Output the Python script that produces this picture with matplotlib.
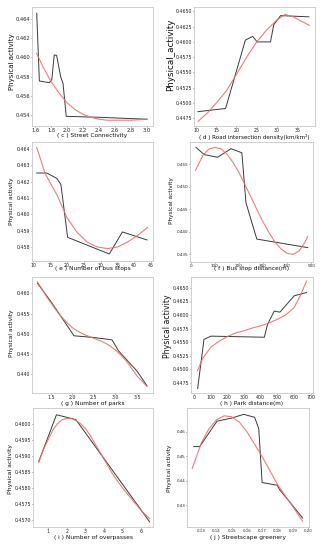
import matplotlib
matplotlib.use("Agg")
import matplotlib.pyplot as plt

# (c) Street Connectivity
c_bx = [1.621, 1.654, 1.78, 1.81, 1.84, 1.87, 1.92, 1.95, 1.99, 2.4, 3.0]
c_by = [0.46455, 0.45755, 0.45738, 0.45772, 0.46024, 0.4602, 0.4580, 0.4573, 0.4539, 0.4538, 0.4536]
c_rx = [1.62, 1.7, 1.8, 1.9, 2.0, 2.1, 2.2, 2.3, 2.4, 2.5, 2.6, 2.7, 2.8, 2.9, 3.0]
c_ry = [0.4604, 0.4590, 0.4575, 0.4563, 0.4553, 0.4546, 0.4541, 0.4538, 0.4536, 0.4535,
        0.4535, 0.4535, 0.4535, 0.45355, 0.4536]

# (d) Road intersection density
d_bx = [10.5, 17.3, 22.2, 24.0, 25.1, 28.4, 29.2, 30.9, 37.9]
d_by = [0.44859, 0.4491, 0.4603, 0.4609, 0.4600, 0.4600, 0.4628, 0.4643, 0.4641]
d_rx = [10.5, 13, 15, 17.5, 20, 22.5, 25, 27.5, 30, 32, 34, 36, 38]
d_ry = [0.4470, 0.4485, 0.4500, 0.4520, 0.4547, 0.4575, 0.4600, 0.4620, 0.4636, 0.4645,
        0.4641, 0.4634, 0.4627]

# (e) Number of bus stops
e_bx = [11, 14, 17, 18.2, 20.2, 32.6, 36.5, 43.8]
e_by = [0.46253, 0.46253, 0.4622, 0.46182, 0.45859, 0.45757, 0.45892, 0.45843]
e_rx = [11, 13.5, 17, 20, 23, 26, 29, 32, 35, 38, 41, 44]
e_ry = [0.4641, 0.4625, 0.4612, 0.4598, 0.4589, 0.4583, 0.4580, 0.4579, 0.4580, 0.4583,
        0.4587, 0.4592]

# (f) Bus stop distance
f_bx = [22, 56, 111, 167, 212, 229, 274, 485]
f_by = [0.4588, 0.4572, 0.4566, 0.4585, 0.4576, 0.4465, 0.4384, 0.4365]
f_rx = [20, 50, 75, 100, 125, 150, 175, 200, 225, 250, 275, 300, 325, 350, 375, 400,
        425, 450, 475, 485]
f_ry = [0.4537, 0.4570, 0.4584, 0.4588, 0.4585, 0.4573, 0.4555, 0.4532, 0.4505, 0.4477,
        0.4449, 0.4422, 0.4398, 0.4377, 0.4362, 0.4352, 0.4350, 0.4358, 0.4378, 0.4390]

# (g) Number of parks
g_bx = [1.19, 1.5, 1.85, 2.04, 2.49, 2.92, 3.07, 3.5, 3.73]
g_by = [0.4625, 0.4580, 0.4525, 0.4495, 0.4491, 0.4485, 0.4458, 0.4408, 0.4372]
g_rx = [1.19, 1.3, 1.4, 1.5, 1.6, 1.7, 1.8, 1.9, 2.0, 2.1, 2.2, 2.3, 2.4, 2.5, 2.6, 2.7,
        2.8, 2.9, 3.0, 3.1, 3.2, 3.3, 3.4, 3.5, 3.6, 3.73]
g_ry = [0.4628, 0.4610, 0.4592, 0.4577, 0.4562, 0.4548, 0.4536, 0.4525, 0.4515, 0.4508,
        0.4502, 0.4497, 0.4493, 0.4489, 0.4485, 0.4480, 0.4475, 0.4468, 0.4460, 0.4450,
        0.4439, 0.4426, 0.4411, 0.4396, 0.4385, 0.4370]

# (h) Park distance
h_bx = [20, 58, 100, 421, 441, 481, 515, 601, 675]
h_by = [0.4465, 0.4555, 0.4561, 0.4559, 0.4583, 0.4607, 0.4605, 0.4635, 0.4641]
h_rx = [20, 50, 100, 150, 204, 250, 300, 350, 400, 440, 500, 550, 600, 640, 675]
h_ry = [0.4498, 0.4520, 0.4541, 0.4552, 0.4561, 0.4567, 0.4571, 0.4576, 0.4580, 0.4584,
        0.4592, 0.4600, 0.4613, 0.4637, 0.4662]

# (i) Number of overpasses
i_bx = [0.5, 1.45, 2.49, 6.45]
i_by = [0.45883, 0.46028, 0.46013, 0.45695]
i_rx = [0.5, 0.75, 1.0, 1.25, 1.5, 1.75, 2.0, 2.25, 2.5, 2.75, 3.0, 3.25, 3.5, 3.75, 4.0,
        4.5, 5.0, 5.5, 6.0, 6.45]
i_ry = [0.4588, 0.4592, 0.4595, 0.4598, 0.4600, 0.46012, 0.46017, 0.46016, 0.4601, 0.4600,
        0.45985, 0.45965, 0.4594, 0.45915, 0.4589, 0.4584, 0.4580, 0.45765, 0.4573, 0.45705]

# (j) Streetscape greenery
j_bx = [0.125, 0.1289, 0.1403, 0.150, 0.1578, 0.165, 0.1677, 0.1699, 0.1798, 0.1813, 0.1965]
j_by = [0.4540, 0.4540, 0.4644, 0.4657, 0.4672, 0.4660, 0.4614, 0.4393, 0.4382, 0.4365, 0.4248]
j_rx = [0.124, 0.13, 0.135, 0.14, 0.145, 0.15, 0.155, 0.16, 0.165, 0.17, 0.175, 0.18,
        0.185, 0.19, 0.1965]
j_ry = [0.4450, 0.4555, 0.4613, 0.4650, 0.4666, 0.4662, 0.4640, 0.4600, 0.4550, 0.4498,
        0.4442, 0.4385, 0.4340, 0.4295, 0.4235]

xlabels = ["( c ) Street Connectivity", "( d ) Road intersection density(km/km²)",
           "( e ) Number of bus stops", "( f ) Bus stop distance(m)",
           "( g ) Number of parks", "( h ) Park distance(m)",
           "( i ) Number of overpasses", "( j ) Streetscape greenery"]
ylabels = ["Physical activity", "Physical_activity", "Physical activity", "Physical activity",
           "Physical activity", "Physical activity", "Physical activity", "Physical activity"]

series = [(c_bx, c_by, c_rx, c_ry), (d_bx, d_by, d_rx, d_ry), (e_bx, e_by, e_rx, e_ry),
          (f_bx, f_by, f_rx, f_ry), (g_bx, g_by, g_rx, g_ry), (h_bx, h_by, h_rx, h_ry),
          (i_bx, i_by, i_rx, i_ry), (j_bx, j_by, j_rx, j_ry)]

xticks = [[1.6, 1.8, 2.0, 2.2, 2.4, 2.6, 2.8, 3.0], [10, 15, 20, 25, 30, 35],
          [10, 15, 20, 25, 30, 35, 40, 45], [0, 100, 200, 300, 400, 500],
          [1.5, 2.0, 2.5, 3.0, 3.5], [0, 100, 200, 300, 400, 500, 600, 700],
          [1, 2, 3, 4, 5, 6], [0.13, 0.14, 0.15, 0.16, 0.17, 0.18, 0.19, 0.20]]
yticks = [[0.454, 0.456, 0.458, 0.460, 0.462, 0.464],
          [0.4475, 0.4500, 0.4525, 0.4550, 0.4575, 0.4600, 0.4625, 0.4650],
          [0.458, 0.459, 0.460, 0.461, 0.462, 0.463, 0.464],
          [0.435, 0.440, 0.445, 0.450, 0.455],
          [0.440, 0.445, 0.450, 0.455, 0.460],
          [0.4475, 0.4500, 0.4525, 0.4550, 0.4575, 0.4600, 0.4625, 0.4650],
          [0.4570, 0.4575, 0.4580, 0.4585, 0.4590, 0.4595, 0.4600],
          [0.43, 0.44, 0.45, 0.46]]
xfmt = ["%.1f", "%d", "%d", "%d", "%.1f", "%d", "%d", "%.2f"]
yfmt = ["%.3f", "%.4f", "%.3f", "%.3f", "%.3f", "%.4f", "%.4f", "%.2f"]

# layout (pixels) -----------------------------------------------------------
xlims = [(1.562, 3.075), (9.5, 39.4), (9.6, 45.6), (-3, 507), (1.066, 3.87),
         (-20, 714), (0.19, 6.63), (0.1206, 0.2007)]
ylims = [(0.4529, 0.4652), (0.44624, 0.46571), (0.45714, 0.46443), (0.4333, 0.4600),
         (0.4354, 0.4640), (0.44567, 0.46695), (0.45679, 0.46049), (0.4211, 0.4698)]
boxes = [(32, 153, 7, 126), (194, 315, 7, 126), (32, 153, 142, 261), (190, 313, 142, 262),
         (32, 153, 277, 393), (191, 313, 277, 393), (33, 153, 408, 527), (187, 309, 408, 527)]
tick_fs = [3.7, 3.4, 3.4, 3.0, 3.4, 3.4, 3.4, 2.9]
xl_w = [70, 111, 75, 74, 63, 63, 78, 75]
xl_y = [135, 136.5, 269, 269, 403, 403, 537, 537]
yl_len = [57, 73, 48, 47, 48, 63, 50, 48]
yl_x = [12.5, 171, 12, 171, 12, 168, 11, 170]
yl_y = [62, 55, 201, 201, 333, 326, 469, 468]

W, H = 327, 550
fig = plt.figure(figsize=(W / 100, H / 100), dpi=100)
fig.patch.set_facecolor("white")
renderer = fig.canvas.get_renderer()

for k in range(8):
    bx, by, rx, ry = series[k]
    l, r, t, b = boxes[k]
    ax = fig.add_axes([l / W, 1 - b / H, (r - l) / W, (b - t) / H])
    ax.plot(bx, by, color="#3a3a3a", lw=0.7)
    ax.plot(rx, ry, color="#e8706f", lw=0.8, alpha=0.9)
    ax.set_xlim(*xlims[k])
    ax.set_ylim(*ylims[k])
    ax.set_xticks(xticks[k])
    ax.set_yticks(yticks[k])
    ax.set_xticklabels([xfmt[k] % v for v in xticks[k]])
    ax.set_yticklabels([yfmt[k] % v for v in yticks[k]])
    ax.tick_params(labelsize=tick_fs[k], length=0.8, width=0.4, pad=0.4, colors="#222222")
    for s in ax.spines.values():
        s.set_color("#c8c8c8")
        s.set_linewidth(0.6)

    # x label, fitted to measured width
    cx = (l + r) / 2
    tx = fig.text(cx / W, 1 - xl_y[k] / H, xlabels[k], fontsize=10, ha="center",
                  va="center", color="#111111")
    w = tx.get_window_extent(renderer).width
    tx.set_fontsize(10 * xl_w[k] / w)

    ty = fig.text(yl_x[k] / W, 1 - yl_y[k] / H, ylabels[k], fontsize=10, ha="center",
                  va="center", rotation=90, color="#111111")
    hgt = ty.get_window_extent(renderer).height
    ty.set_fontsize(10 * yl_len[k] / hgt)

fig.savefig("out.png", dpi=100, facecolor="white")
